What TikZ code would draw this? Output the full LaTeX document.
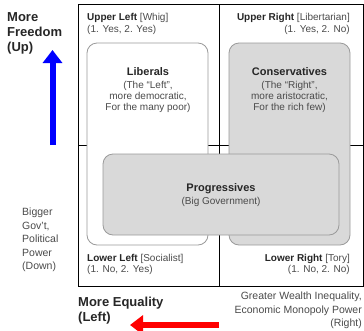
\documentclass[tikz,border=0pt]{standalone}
\usepackage{fontspec}
\setmainfont{Liberation Sans}
\usetikzlibrary{arrows.meta}
\definecolor{txtdark}{HTML}{262626}
\definecolor{txtgray}{HTML}{4A4A4A}
\definecolor{boxline}{HTML}{9A9A9A}
\definecolor{boxfill}{HTML}{D9D9D9}
\newcommand\partytitlefont{\fontsize{11}{12.5}\selectfont\bfseries\color{txtdark}}
\tikzset{
  frame/.style={draw=black, line width=1pt},
  party/.style={draw=boxline, line width=0.8pt, rounded corners=10pt, inner sep=0pt},
  quad/.style={inner sep=0pt, text=txtgray, font=\fontsize{10}{11.5}\selectfont},
  partytext/.style={inner sep=0pt, text=txtgray, align=center, font=\fontsize{10}{11}\selectfont},
  axistitle/.style={inner sep=0pt, text=txtdark, align=left, font=\fontsize{13}{15}\selectfont\bfseries},
  axisnote/.style={inner sep=0pt, text=txtgray, font=\fontsize{10.5}{13.5}\selectfont},
  bigarrow/.style={line width=6pt, -{Triangle[length=13pt,width=19pt]}}
}
\begin{document}
\begin{tikzpicture}[x=1pt,y=-1pt]
\useasboundingbox (0,0) rectangle (364,330);
\clip (0,0) rectangle (364,330);
% frame and quadrant lines
\coordinate (fTL) at (78,4);
\coordinate (fBR) at (363,286);
\coordinate (hL) at (78,145);
\coordinate (hR) at (363,145);
\coordinate (vT) at (219,4);
\coordinate (vB) at (219,286);
\draw[frame] (hL) -- (hR);
\draw[frame] (vT) -- (vB);
\draw[frame] (fTL) rectangle (fBR);
% party boxes
\node[party, fill=white, minimum width=121, minimum height=202] (lib) at (147.5,144) {};
\node[party, fill=boxfill, minimum width=121, minimum height=202] (con) at (289.5,144) {};
\node[party, fill=boxfill, minimum width=236, minimum height=81] (pro) at (221,194.5) {};
% party texts
\node[partytext, anchor=north] (libt) at (148,67) {{\partytitlefont Liberals}\\[2pt](The “Left”,\\more democratic,\\For the many poor)};
\node[partytext, anchor=north] (cont) at (289.5,67) {{\partytitlefont Conservatives}\\[2pt](The “Right”,\\more aristocratic,\\For the rich few)};
\node[partytext, anchor=north] (prot) at (221,183) {{\partytitlefont Progressives}\\[2pt](Big Government)};
% quadrant labels
\node[quad, anchor=north west, align=left] (ul) at (87,13.5) {{\bfseries\color{txtdark}Upper Left} [Whig]\\(1. Yes, 2. Yes)};
\node[quad, anchor=north east, align=right] (ur) at (350,13.5) {{\bfseries\color{txtdark}Upper Right} [Libertarian]\\(1. Yes, 2. No)};
\node[quad, anchor=north west, align=left] (ll) at (87,254) {{\bfseries\color{txtdark}Lower Left} [Socialist]\\(1. No, 2. Yes)};
\node[quad, anchor=north east, align=right] (lr) at (350,254) {{\bfseries\color{txtdark}Lower Right} [Tory]\\(1. No, 2. No)};
% axis texts
\node[axistitle, anchor=north west] (up) at (7,12) {More\\Freedom\\(Up)};
\node[axisnote, anchor=north west, align=left] (down) at (22,208) {Bigger\\Gov't,\\Political\\Power\\(Down)};
\node[axistitle, anchor=north west] (left) at (78,297) {More Equality\\(Left)};
\node[axisnote, anchor=north east, align=right] (right) at (362,292) {Greater Wealth Inequality,\\Economic Monopoly Power\\(Right)};
% arrows
\coordinate (bS) at (52.5,145);
\coordinate (bE) at (52.5,50);
\draw[bigarrow, blue] (bS) -- (bE);
\coordinate (rS) at (219,325);
\coordinate (rE) at (130,325);
\draw[bigarrow, red] (rS) -- (rE);
\end{tikzpicture}
\end{document}
